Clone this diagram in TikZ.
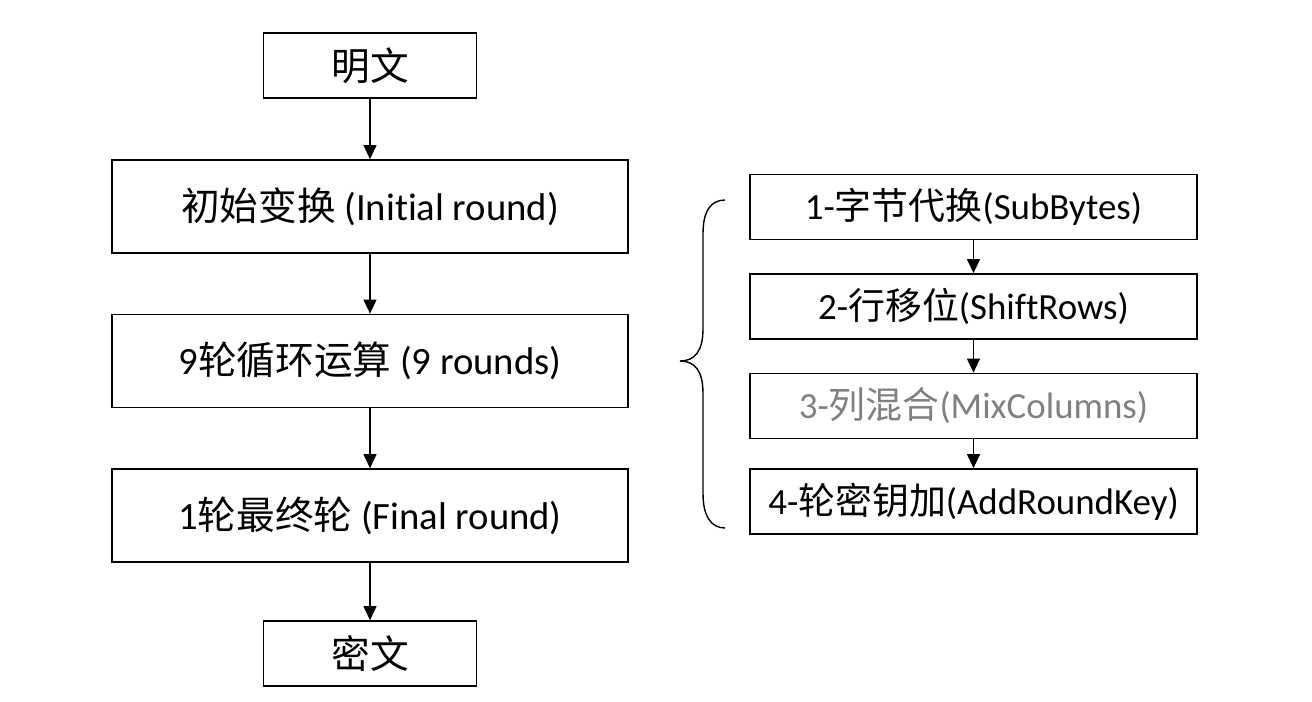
\documentclass[tikz,border=0pt]{standalone}
\usepackage{fontspec}
\setmainfont[Ligatures=NoCommon]{Carlito}
\newfontfamily\cjk{Noto Sans CJK SC}
\usetikzlibrary{arrows.meta}
\definecolor{mixgray}{RGB}{128,128,128}

\begin{document}
\begin{tikzpicture}[
    box/.style={draw, line width=1pt, inner sep=0pt, align=center},
    bigbox/.style={box, minimum width=10.32cm, minimum height=1.86cm, font=\fontsize{22}{26}\selectfont},
    endbox/.style={box, minimum width=4.26cm, minimum height=1.3cm, font=\fontsize{22}{26}\selectfont},
    stepbox/.style={box, minimum width=8.94cm, minimum height=1.3cm, font=\fontsize{21}{25}\selectfont},
    flow/.style={-{Triangle[length=2.8mm, width=2.6mm]}, line width=0.7pt}
]
        \useasboundingbox (0,0) rectangle (26.24,14.02);

        % Main flow (left column)
        \node[endbox] (plain)  at (7.4,12.71) {{\cjk 明文}};
        \node[bigbox] (init)   at (7.4, 9.89) {{\cjk 初始变换} (Initial round)};
        \node[bigbox] (rounds) at (7.4, 6.80) {9{\cjk 轮循环运算} (9 rounds)};
        \node[bigbox] (final)  at (7.4, 3.71) {1{\cjk 轮最终轮} (Final round)};
        \node[endbox] (cipher) at (7.4, 0.95) {{\cjk 密文}};

        \draw[flow] (plain)  -- (init);
        \draw[flow] (init)   -- (rounds);
        \draw[flow] (rounds) -- (final);
        \draw[flow] (final)  -- (cipher);

        % One round (right column)
        \node[stepbox] (sub)    at (19.47,9.88) {1-{\cjk 字节代换}(SubBytes)};
        \node[stepbox] (shift)  at (19.47,7.89) {2-{\cjk 行移位}(ShiftRows)};
        \node[stepbox, text=mixgray] (mix) at (19.47,5.90) {3-{\cjk 列混合}(MixColumns)};
        \node[stepbox] (addkey) at (19.47,3.99) {4-{\cjk 轮密钥加}(AddRoundKey)};

        \draw[flow] (sub)   -- (shift);
        \draw[flow] (shift) -- (mix);
        \draw[flow] (mix)   -- (addkey);

        % Brace grouping the round steps
        \draw[line width=0.8pt] (14.5,10.02)
            .. controls (14.22,10.02) and (14.06,9.8) .. (14.06,9.35)
            -- (14.06,7.45)
            .. controls (14.06,7.0) and (13.9,6.8) .. (13.6,6.8)
            .. controls (13.9,6.8) and (14.06,6.6) .. (14.06,6.15)
            -- (14.06,4.15)
            .. controls (14.06,3.7) and (14.22,3.46) .. (14.5,3.46);
\end{tikzpicture}
\end{document}
